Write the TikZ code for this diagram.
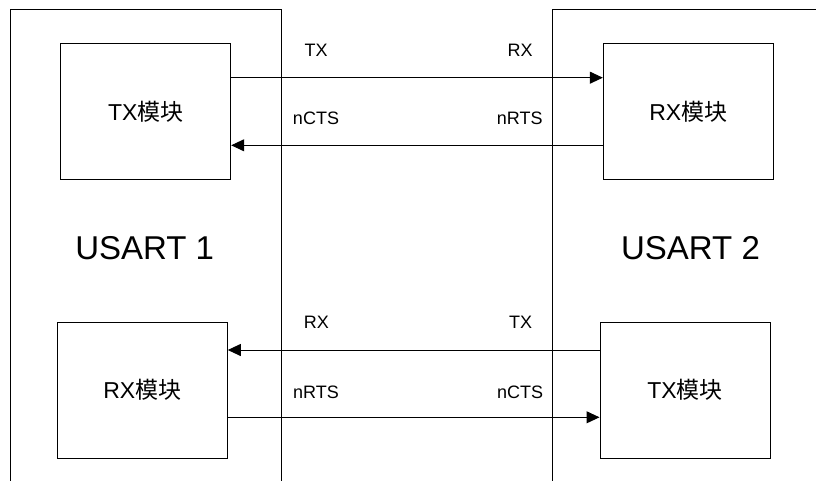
\documentclass[tikz,border=0pt]{standalone}
\usepackage{fontspec}
\setmainfont{Liberation Sans}
\newfontfamily\cjk{Noto Sans CJK SC}
\usepackage{tikz}
\usetikzlibrary{arrows.meta, positioning}

\begin{document}
\begin{tikzpicture}[
  x=1pt, y=-1pt,
  module/.style={draw, line width=1pt, minimum width=170pt, minimum height=135.6pt, inner sep=0pt, font=\fontsize{23}{28}\selectfont},
  frame/.style={draw, line width=1pt},
  sig/.style={anchor=base, inner sep=0pt, font=\fontsize{18}{22}\selectfont},
  usart/.style={anchor=base, inner sep=0pt, font=\fontsize{33}{40}\selectfont},
  arrow/.style={-{Triangle[length=13pt, width=12pt]}, line width=1pt},
  wire/.style={line width=1pt}
]
\useasboundingbox (0,0) rectangle (816,481);

% the two USART frames, open at the bottom
\draw[frame] (10,481) |- (281.7,10) -- (281.7,481);
\draw[frame] (552.7,481) |- (816,10);

\node[module] (txa) at (145.7,111.5) {TX{\cjk 模块}};
\node[module] (rxa) at (688.3,111.5) {RX{\cjk 模块}};
\node[module] (rxb) at (142.3,390.2) {RX{\cjk 模块}};
\node[module] (txb) at (685,390.2) {TX{\cjk 模块}};

\node[usart] (u1) at (144.7,259) {USART 1};
\node[usart] (u2) at (690.5,259) {USART 2};

\node[sig] (tx1) at (316,56.7) {TX};
\node[sig] (rx1) at (520,56.7) {RX};
\node[sig] (cts1) at (316,125) {nCTS};
\node[sig] (rts1) at (519.7,125) {nRTS};
\node[sig] (rx2) at (316.3,328.3) {RX};
\node[sig] (tx2) at (520.5,328.3) {TX};
\node[sig] (rts2) at (316,398.3) {nRTS};
\node[sig] (cts2) at (520,398.3) {nCTS};

\draw[arrow] ([yshift=33.8pt]txa.east) -- ([yshift=33.8pt]rxa.west);
\draw[arrow] ([yshift=-33.8pt]rxa.west) -- ([yshift=-33.8pt]txa.east);
\draw[arrow] ([yshift=40.2pt]txb.west) -- ([yshift=40.2pt]rxb.east);
\draw[arrow] ([yshift=-27.1pt]rxb.east) -- ([yshift=-27.1pt]txb.west);
\end{tikzpicture}
\end{document}
